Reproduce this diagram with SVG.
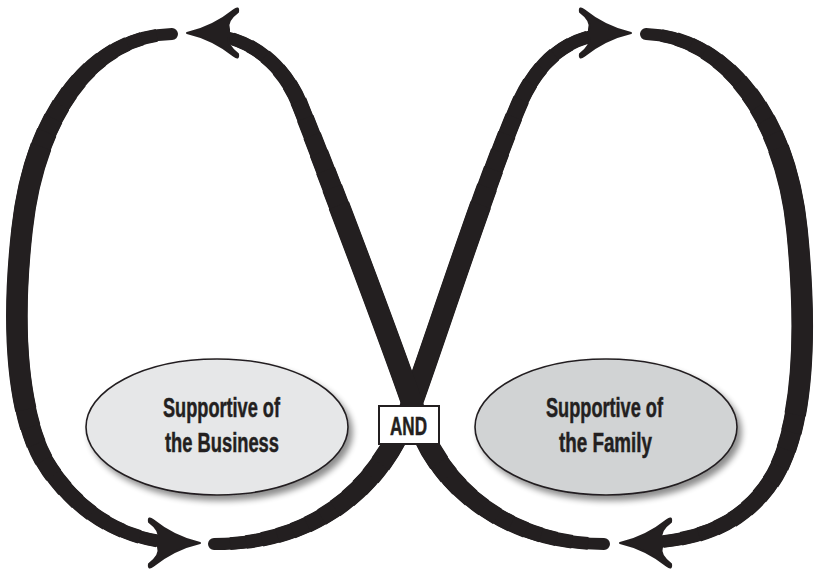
<svg xmlns="http://www.w3.org/2000/svg" width="816" height="573" viewBox="0 0 816 573">
<defs>
<style>
.s{fill:none;stroke:#231f20;stroke-linejoin:round}
.w0{stroke-width:12;stroke-linecap:round}
.k1{stroke-width:12.8;stroke-dasharray:95 1000;stroke-dashoffset:-2.3}
.k2{stroke-width:13.6;stroke-dasharray:90 1000;stroke-dashoffset:-4.6}
.k3{stroke-width:14.4;stroke-dasharray:85 1000;stroke-dashoffset:-6.9}
.k4{stroke-width:15.2;stroke-dasharray:80 1000;stroke-dashoffset:-9.2}
.k5{stroke-width:16;stroke-dasharray:75 1000;stroke-dashoffset:-11.5}
.k6{stroke-width:16.8;stroke-dasharray:70 1000;stroke-dashoffset:-13.8}
.k7{stroke-width:17.6;stroke-dasharray:65 1000;stroke-dashoffset:-16.1}
.k8{stroke-width:18.4;stroke-dasharray:60 1000;stroke-dashoffset:-18.4}
.k9{stroke-width:19.2;stroke-dasharray:55 1000;stroke-dashoffset:-20.7}
.k10{stroke-width:20;stroke-dasharray:50 1000;stroke-dashoffset:-23}
.k11{stroke-width:20.8;stroke-dasharray:45 1000;stroke-dashoffset:-25.3}
.k12{stroke-width:21.6;stroke-dasharray:40 1000;stroke-dashoffset:-27.6}
.ah{fill:#231f20;stroke:#231f20;stroke-width:2;stroke-linejoin:round}
.el{stroke:#231f20;stroke-width:1.6}
.t{font-family:"Liberation Sans",Arial,sans-serif;font-weight:bold;fill:#231f20;stroke:#231f20;stroke-width:0.5}
</style>
<filter id="sh" x="-20%" y="-20%" width="150%" height="160%">
<feGaussianBlur in="SourceAlpha" stdDeviation="3"/>
<feOffset dx="4" dy="5"/>
<feComponentTransfer><feFuncA type="linear" slope="0.45"/></feComponentTransfer>
<feMerge><feMergeNode/><feMergeNode in="SourceGraphic"/></feMerge>
</filter>
<path id="pB" pathLength="100" d="M172,34 C95,36 35,110 22,230 C12,320 15,420 50,470 C85,520 130,540 175,543"/>
<path id="pC" pathLength="100" d="M646,34 C720,36 785,110 797,230 C806,320 806,420 775,475 C745,525 700,540 645,543"/>
<path id="pX1" pathLength="100" d="M214,544 C310,544 380,493 412,403 C435,340 488,175 521,100 C540,60 568,37 606,34"/>
<path id="pX2" pathLength="100" d="M604,544 C515,544 435,493 412,403 C390,340 328,175 300,105 C287,72 258,40 214,35"/>
<g id="tB"><use href="#pB" class="w0"/><use href="#pB" class="k1"/><use href="#pB" class="k2"/><use href="#pB" class="k3"/><use href="#pB" class="k4"/><use href="#pB" class="k5"/><use href="#pB" class="k6"/><use href="#pB" class="k7"/><use href="#pB" class="k8"/><use href="#pB" class="k9"/><use href="#pB" class="k10"/><use href="#pB" class="k11"/><use href="#pB" class="k12"/></g>
<g id="tC"><use href="#pC" class="w0"/><use href="#pC" class="k1"/><use href="#pC" class="k2"/><use href="#pC" class="k3"/><use href="#pC" class="k4"/><use href="#pC" class="k5"/><use href="#pC" class="k6"/><use href="#pC" class="k7"/><use href="#pC" class="k8"/><use href="#pC" class="k9"/><use href="#pC" class="k10"/><use href="#pC" class="k11"/><use href="#pC" class="k12"/></g>
<g id="tX1"><use href="#pX1" class="w0"/><use href="#pX1" class="k1"/><use href="#pX1" class="k2"/><use href="#pX1" class="k3"/><use href="#pX1" class="k4"/><use href="#pX1" class="k5"/><use href="#pX1" class="k6"/><use href="#pX1" class="k7"/><use href="#pX1" class="k8"/><use href="#pX1" class="k9"/><use href="#pX1" class="k10"/><use href="#pX1" class="k11"/><use href="#pX1" class="k12"/></g>
<g id="tX2"><use href="#pX2" class="w0"/><use href="#pX2" class="k1"/><use href="#pX2" class="k2"/><use href="#pX2" class="k3"/><use href="#pX2" class="k4"/><use href="#pX2" class="k5"/><use href="#pX2" class="k6"/><use href="#pX2" class="k7"/><use href="#pX2" class="k8"/><use href="#pX2" class="k9"/><use href="#pX2" class="k10"/><use href="#pX2" class="k11"/><use href="#pX2" class="k12"/></g>
<path id="ah" d="M0,0 Q26,-6 47,-23 Q52,-27 51,-21 Q39,-12 42,-4 L42,4 Q39,12 51,21 Q52,27 47,23 Q26,6 0,0 Z"/>
</defs>
<rect width="816" height="573" fill="#ffffff"/>
<g id="connectors">
<g class="s">
<use href="#tB"/>
<use href="#tC"/>
<use href="#tX1"/>
<use href="#tX2"/>
</g>
<use href="#ah" class="ah" transform="translate(187,33)"/>
<use href="#ah" class="ah" transform="translate(631,33) rotate(180)"/>
<use href="#ah" class="ah" transform="translate(200,543) rotate(180)"/>
<use href="#ah" class="ah" transform="translate(620,543)"/>
</g>
<g id="business">
<ellipse class="el" cx="217" cy="427" rx="131" ry="68" fill="#e6e7e8" filter="url(#sh)"/>
<text class="t" font-size="28" x="163" y="417" textLength="117" lengthAdjust="spacingAndGlyphs">Supportive of</text>
<text class="t" font-size="28" x="165" y="452" textLength="114" lengthAdjust="spacingAndGlyphs">the Business</text>
</g>
<g id="family">
<ellipse class="el" cx="606" cy="427" rx="131" ry="68" fill="#d1d3d4" filter="url(#sh)"/>
<text class="t" font-size="28" x="546" y="417" textLength="117" lengthAdjust="spacingAndGlyphs">Supportive of</text>
<text class="t" font-size="28" x="559" y="452" textLength="93" lengthAdjust="spacingAndGlyphs">the Family</text>
</g>
<g id="and">
<rect x="379" y="406" width="60" height="38" fill="#ffffff" stroke="#231f20" stroke-width="2"/>
<text class="t" font-size="25" x="390" y="435" textLength="37" lengthAdjust="spacingAndGlyphs">AND</text>
</g>
</svg>
